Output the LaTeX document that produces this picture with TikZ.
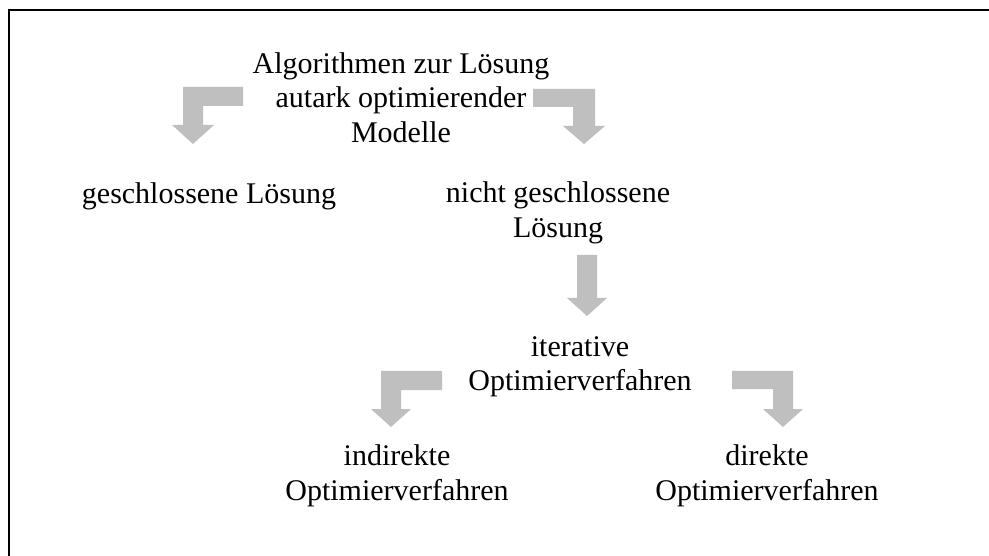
\documentclass[tikz,border=0pt]{standalone}
\usepackage{fontspec}
\setmainfont{Liberation Serif}
\begin{document}
\begin{tikzpicture}[x=1pt,y=-1pt,
  label/.style={align=center,inner sep=0pt,font=\fontsize{30}{34.5}\selectfont},
  blockarrow/.style={fill=black!25,draw=none}]
\useasboundingbox (0,0) rectangle (989,556);
\fill[white] (0,0) rectangle (989,556);
% outer frame (only top and left edges lie inside the page)
\draw[line width=2pt] (9,556) -- (9,10) -- (989,10);

\node[label] (root) at (401,97.5) {Algorithmen zur Lösung\\autark optimierender\\Modelle};
\node[label] (closed) at (209,196) {geschlossene Lösung};
\node[label] (open) at (558,213) {nicht geschlossene\\Lösung};
\node[label] (iter) at (580,367) {iterative\\Optimierverfahren};
\node[label] (indir) at (397,476) {indirekte\\Optimierverfahren};
\node[label] (dir) at (767,476) {direkte\\Optimierverfahren};

% bent and straight block arrows
\fill[blockarrow] (243,87) -- (183,87) -- (183,125) -- (172,125) -- (193,144)
  -- (214,125) -- (203,125) -- (203,106) -- (243,106) -- cycle;
\fill[blockarrow] (533,89) -- (595,89) -- (595,126) -- (605,126) -- (584,144)
  -- (563,126) -- (573,126) -- (573,107) -- (533,107) -- cycle;
\fill[blockarrow] (577,255) -- (597,255) -- (597,298) -- (607,298) -- (587,316)
  -- (567,298) -- (577,298) -- cycle;
\fill[blockarrow] (442,371) -- (381,371) -- (381,409) -- (371,409) -- (391,427)
  -- (411,409) -- (401,409) -- (401,390) -- (442,390) -- cycle;
\fill[blockarrow] (732,371) -- (793,371) -- (793,409) -- (803,409) -- (783,427)
  -- (763,409) -- (773,409) -- (773,389) -- (732,389) -- cycle;
\end{tikzpicture}
\end{document}
